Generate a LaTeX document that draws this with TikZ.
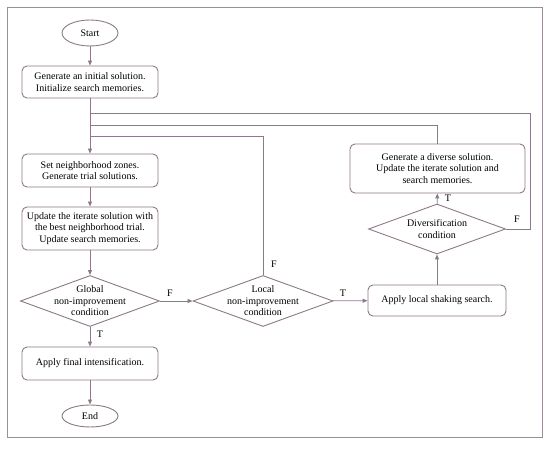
\documentclass[tikz,border=0pt]{standalone}
\usepackage{fontspec}
\setmainfont{Liberation Serif}
\usetikzlibrary{shapes.geometric,arrows.meta}
\definecolor{ln}{RGB}{140,122,137}
\definecolor{fr}{RGB}{155,142,153}
\begin{document}
\begin{tikzpicture}[x=1pt,y=-1pt,
  font=\fontsize{10}{11.5}\selectfont,
  proc/.style={draw=ln, line width=0.9pt, rounded corners=5pt, align=center, inner sep=0pt},
  term/.style={draw=ln, line width=0.9pt, ellipse, inner sep=0pt},
  decision/.style={draw=ln, line width=0.9pt, diamond, inner sep=0pt},
  conn/.style={draw=ln, line width=0.9pt},
  arr/.style={conn, -{Triangle[length=5pt,width=4pt]}},
  lab/.style={inner sep=0pt}
]
\fill[white] (0,0) rectangle (550,449);
\useasboundingbox (0,0) rectangle (550,449);
\draw[fr, line width=1pt] (7,8) rectangle (542,438);

\node[term, minimum width=56pt, minimum height=26pt] (start) at (90,33) {Start};
\node[proc, minimum width=136pt, minimum height=32pt] (init) at (90,82) {Generate an initial solution.\\Initialize search memories.};
\node[proc, minimum width=136pt, minimum height=33pt] (zones) at (90,170.5) {Set neighborhood zones.\\Generate trial solutions.};
\node[proc, minimum width=136pt, minimum height=43pt] (update) at (90,228.5) {Update the iterate solution with\\the best neighborhood trial.\\Update search memories.};
\node[decision, minimum width=139pt, minimum height=51pt, label={[align=center]center:Global\\non-improvement\\condition}] (global) at (90,301) {};
\node[proc, minimum width=136pt, minimum height=33pt] (final) at (90,363.5) {Apply final intensification.};
\node[term, minimum width=56pt, minimum height=22pt] (end) at (90,416) {End};
\node[decision, minimum width=140pt, minimum height=51pt, label={[align=center]center:Local\\non-improvement\\condition}] (local) at (263,301) {};
\node[proc, minimum width=138pt, minimum height=31pt] (shake) at (437,300.5) {Apply local shaking search.};
\node[decision, minimum width=137pt, minimum height=50pt, label={[align=center]center:Diversification\\condition}] (divers) at (437,229) {};
\node[proc, minimum width=175pt, minimum height=49pt] (diverse) at (437.5,168.5) {Generate a diverse solution.\\Update the iterate solution and\\search memories.};

\coordinate (j1) at (90,113);
\coordinate (j2) at (90,125);
\coordinate (j3) at (90,136);
\coordinate (c1) at (530,113);

\draw[arr] (start) -- (init);
\draw[arr] (init) -- (zones);
\draw[conn] (divers.east) -| (c1) -- (j1);
\draw[conn] (diverse.north) |- (j2);
\draw[conn] (local.north) |- (j3);
\draw[arr] (zones) -- (update);
\draw[arr] (update) -- (global);
\draw[arr] (global) -- (final);
\draw[arr] (final) -- (end);
\draw[arr] (global) -- (local);
\draw[arr] (local) -- (shake);
\draw[arr] (shake) -- (divers);
\draw[arr] (divers) -- (diverse);

\node[lab] (fg) at (170,293) {F};
\node[lab] (tg) at (100,334) {T};
\node[lab] (fl) at (274,264) {F};
\node[lab] (tl) at (343,293) {T};
\node[lab] (td) at (448,198) {T};
\node[lab] (fd) at (517,219) {F};
\end{tikzpicture}
\end{document}
